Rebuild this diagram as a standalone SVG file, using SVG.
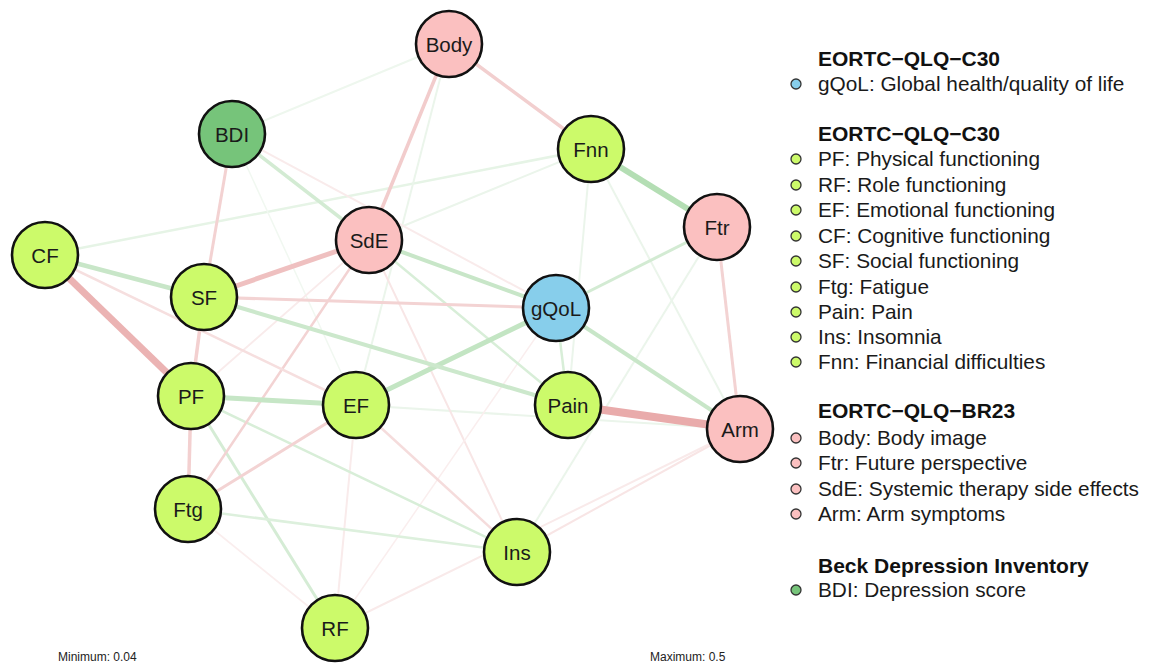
<svg xmlns="http://www.w3.org/2000/svg" width="1155" height="664" viewBox="0 0 1155 664">
<style>
.n circle{stroke:#111;stroke-width:2.6}
.n text{font-family:"Liberation Sans",Arial,sans-serif;font-size:20.5px;fill:#1a1a1a;text-anchor:middle;dominant-baseline:central}
.g{fill:#ccfa6a}.p{fill:#fbc0c0}.b{fill:#87ceeb}.d{fill:#76c47a}
.e line{stroke-linecap:butt}
.lt{font-family:"Liberation Sans",Arial,sans-serif;font-size:21px;font-weight:bold;fill:#111}
.li{font-family:"Liberation Sans",Arial,sans-serif;font-size:20.8px;fill:#1a1a1a}
.dot{stroke:#333;stroke-width:1.3}
.mm{font-family:"Liberation Sans",Arial,sans-serif;font-size:12px;fill:#222}
</style>
<rect width="1155" height="664" fill="#fff"/>
<g id="connectors" class="e">
<!-- faint green -->
<line x1="45" y1="255" x2="591" y2="149" stroke="#e6f4e6" stroke-width="2.5"/>
<line x1="232" y1="134" x2="449" y2="44" stroke="#eef7ee" stroke-width="2"/>
<line x1="449" y1="44" x2="356" y2="405" stroke="#ebf5eb" stroke-width="2"/>
<line x1="369" y1="240" x2="591" y2="149" stroke="#ebf5eb" stroke-width="2"/>
<line x1="591" y1="149" x2="568" y2="405" stroke="#ebf5eb" stroke-width="2"/>
<line x1="591" y1="149" x2="740" y2="429" stroke="#ebf5eb" stroke-width="2"/>
<line x1="717" y1="227" x2="517" y2="552" stroke="#ebf5eb" stroke-width="2"/>
<line x1="356" y1="405" x2="740" y2="429" stroke="#ebf5eb" stroke-width="2"/>
<line x1="232" y1="134" x2="356" y2="405" stroke="#f1f8f1" stroke-width="1.5"/>
<!-- faint red -->
<line x1="232" y1="134" x2="556" y2="308" stroke="#f9ebeb" stroke-width="2"/>
<line x1="369" y1="240" x2="517" y2="552" stroke="#f8e6e6" stroke-width="2"/>
<line x1="369" y1="240" x2="191" y2="396" stroke="#f9ebeb" stroke-width="1.8"/>
<line x1="356" y1="405" x2="335" y2="628" stroke="#f9ebeb" stroke-width="2"/>
<line x1="188" y1="509" x2="335" y2="628" stroke="#faeeee" stroke-width="1.8"/>
<line x1="556" y1="308" x2="335" y2="628" stroke="#faeeee" stroke-width="1.5"/>
<line x1="335" y1="628" x2="740" y2="429" stroke="#f9eaea" stroke-width="2"/>
<line x1="517" y1="552" x2="740" y2="429" stroke="#f8e5e5" stroke-width="2"/>
<!-- medium green -->
<line x1="232" y1="134" x2="369" y2="240" stroke="#d3ebd3" stroke-width="3.5"/>
<line x1="717" y1="227" x2="556" y2="308" stroke="#d3ebd3" stroke-width="3"/>
<line x1="191" y1="396" x2="335" y2="628" stroke="#d5ecd5" stroke-width="3"/>
<line x1="369" y1="240" x2="568" y2="405" stroke="#d8eed8" stroke-width="2.5"/>
<line x1="191" y1="396" x2="517" y2="552" stroke="#d8eed8" stroke-width="2.5"/>
<line x1="556" y1="308" x2="568" y2="405" stroke="#d8eed8" stroke-width="2.5"/>
<line x1="188" y1="509" x2="517" y2="552" stroke="#ddf0dd" stroke-width="2.5"/>
<!-- medium red -->
<line x1="449" y1="44" x2="369" y2="240" stroke="#f2cccc" stroke-width="3.5"/>
<line x1="449" y1="44" x2="591" y2="149" stroke="#f2cfcf" stroke-width="3.5"/>
<line x1="232" y1="134" x2="204" y2="297" stroke="#f3d2d2" stroke-width="3"/>
<line x1="204" y1="297" x2="191" y2="396" stroke="#f3d0d0" stroke-width="3.5"/>
<line x1="191" y1="396" x2="188" y2="509" stroke="#f3d0d0" stroke-width="3.5"/>
<line x1="204" y1="297" x2="556" y2="308" stroke="#f3d3d3" stroke-width="3"/>
<line x1="717" y1="227" x2="740" y2="429" stroke="#f3d3d3" stroke-width="3"/>
<line x1="369" y1="240" x2="188" y2="509" stroke="#f3d3d3" stroke-width="2.5"/>
<line x1="356" y1="405" x2="188" y2="509" stroke="#f3d3d3" stroke-width="3"/>
<line x1="356" y1="405" x2="517" y2="552" stroke="#f5dcdc" stroke-width="2.5"/>
<line x1="45" y1="255" x2="356" y2="405" stroke="#f6dfdf" stroke-width="2.5"/>
<!-- strong green -->
<line x1="591" y1="149" x2="717" y2="227" stroke="#b4deb4" stroke-width="6"/>
<line x1="356" y1="405" x2="556" y2="308" stroke="#c3e5c3" stroke-width="5"/>
<line x1="191" y1="396" x2="356" y2="405" stroke="#c6e6c6" stroke-width="5"/>
<line x1="45" y1="255" x2="204" y2="297" stroke="#c8e6c8" stroke-width="4.5"/>
<line x1="556" y1="308" x2="740" y2="429" stroke="#c8e6c8" stroke-width="4"/>
<line x1="204" y1="297" x2="568" y2="405" stroke="#cce8cc" stroke-width="4"/>
<line x1="369" y1="240" x2="556" y2="308" stroke="#c8e6c8" stroke-width="4"/>
<!-- strong red -->
<line x1="568" y1="405" x2="740" y2="429" stroke="#e9abab" stroke-width="8"/>
<line x1="45" y1="255" x2="191" y2="396" stroke="#ebb3b3" stroke-width="7"/>
<line x1="204" y1="297" x2="369" y2="240" stroke="#efc0c0" stroke-width="5"/>
</g>
<g id="node-Body" class="n"><circle class="p" cx="449" cy="44" r="33"/><text x="449" y="44">Body</text></g>
<g id="node-BDI" class="n"><circle class="d" cx="232" cy="134" r="33"/><text x="232" y="134">BDI</text></g>
<g id="node-Fnn" class="n"><circle class="g" cx="591" cy="149" r="33"/><text x="591" y="149">Fnn</text></g>
<g id="node-CF" class="n"><circle class="g" cx="45" cy="255" r="33"/><text x="45" y="255">CF</text></g>
<g id="node-SdE" class="n"><circle class="p" cx="369" cy="240" r="33"/><text x="369" y="240">SdE</text></g>
<g id="node-Ftr" class="n"><circle class="p" cx="717" cy="227" r="33"/><text x="717" y="227">Ftr</text></g>
<g id="node-SF" class="n"><circle class="g" cx="204" cy="297" r="33"/><text x="204" y="297">SF</text></g>
<g id="node-gQoL" class="n"><circle class="b" cx="556" cy="308" r="33"/><text x="556" y="308">gQoL</text></g>
<g id="node-PF" class="n"><circle class="g" cx="191" cy="396" r="33"/><text x="191" y="396">PF</text></g>
<g id="node-EF" class="n"><circle class="g" cx="356" cy="405" r="33"/><text x="356" y="405">EF</text></g>
<g id="node-Pain" class="n"><circle class="g" cx="568" cy="405" r="33"/><text x="568" y="405">Pain</text></g>
<g id="node-Arm" class="n"><circle class="p" cx="740" cy="429" r="33"/><text x="740" y="429">Arm</text></g>
<g id="node-Ftg" class="n"><circle class="g" cx="188" cy="509" r="33"/><text x="188" y="509">Ftg</text></g>
<g id="node-Ins" class="n"><circle class="g" cx="517" cy="552" r="33"/><text x="517" y="552">Ins</text></g>
<g id="node-RF" class="n"><circle class="g" cx="335" cy="628" r="33"/><text x="335" y="628">RF</text></g>
<g id="legend">
<text class="lt" x="818" y="66">EORTC−QLQ−C30</text>
<circle class="dot b" cx="796" cy="84" r="5"/><text class="li" x="818" y="91">gQoL: Global health/quality of life</text>
<text class="lt" x="818" y="141">EORTC−QLQ−C30</text>
<circle class="dot g" cx="796" cy="159" r="5"/><text class="li" x="818" y="166">PF: Physical functioning</text>
<circle class="dot g" cx="796" cy="185" r="5"/><text class="li" x="818" y="192">RF: Role functioning</text>
<circle class="dot g" cx="796" cy="210" r="5"/><text class="li" x="818" y="217">EF: Emotional functioning</text>
<circle class="dot g" cx="796" cy="236" r="5"/><text class="li" x="818" y="243">CF: Cognitive functioning</text>
<circle class="dot g" cx="796" cy="261" r="5"/><text class="li" x="818" y="268">SF: Social functioning</text>
<circle class="dot g" cx="796" cy="287" r="5"/><text class="li" x="818" y="294">Ftg: Fatigue</text>
<circle class="dot g" cx="796" cy="312" r="5"/><text class="li" x="818" y="319">Pain: Pain</text>
<circle class="dot g" cx="796" cy="337" r="5"/><text class="li" x="818" y="344">Ins: Insomnia</text>
<circle class="dot g" cx="796" cy="362" r="5"/><text class="li" x="818" y="369">Fnn: Financial difficulties</text>
<text class="lt" x="818" y="418">EORTC−QLQ−BR23</text>
<circle class="dot p" cx="796" cy="438" r="5"/><text class="li" x="818" y="445">Body: Body image</text>
<circle class="dot p" cx="796" cy="463" r="5"/><text class="li" x="818" y="470">Ftr: Future perspective</text>
<circle class="dot p" cx="796" cy="489" r="5"/><text class="li" x="818" y="496">SdE: Systemic therapy side effects</text>
<circle class="dot p" cx="796" cy="514" r="5"/><text class="li" x="818" y="521">Arm: Arm symptoms</text>
<text class="lt" x="818" y="573">Beck Depression Inventory</text>
<circle class="dot d" cx="796" cy="590" r="5"/><text class="li" x="818" y="597">BDI: Depression score</text>
</g>
<text class="mm" x="58" y="661">Minimum: 0.04</text>
<text class="mm" x="650" y="661">Maximum: 0.5</text>
</svg>
